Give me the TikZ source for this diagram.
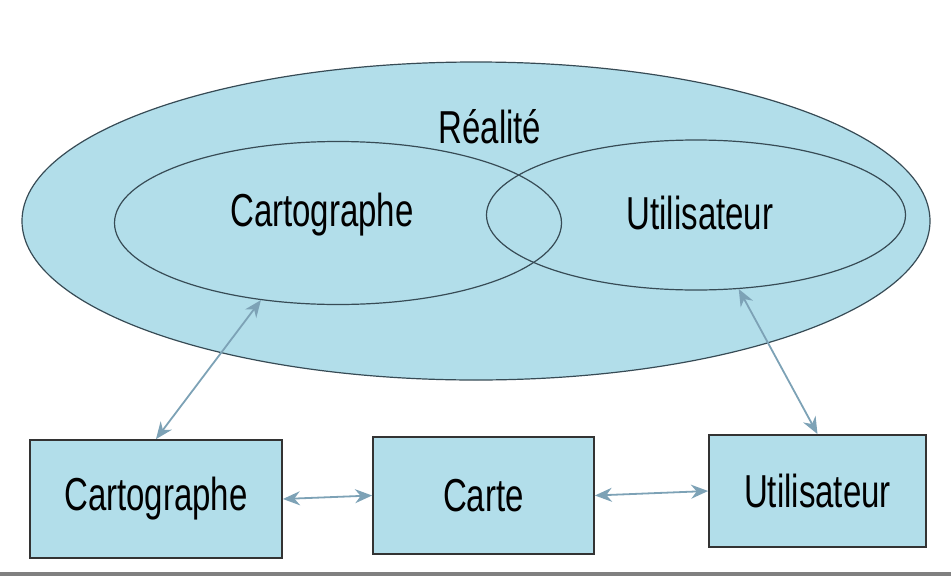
\documentclass[tikz,border=0pt]{standalone}
\usepackage{fontspec}
\usepackage{graphicx}
\setmainfont{Liberation Sans}
\usetikzlibrary{shapes.geometric,arrows.meta}

\definecolor{fondbleu}{RGB}{178,222,234}
\definecolor{traitbleu}{RGB}{125,162,182}
\definecolor{bord}{RGB}{55,75,85}

\newcommand{\haut}[1]{\scalebox{1}[1.4]{#1}}

\tikzset{
  ens/.style={ellipse,draw=bord,line width=1.2pt,inner sep=0pt},
  boite/.style={rectangle,draw=black!80,line width=1.8pt,fill=fondbleu,inner sep=0pt},
  texte/.style={font=\fontsize{33}{40}\selectfont},
  lien/.style={draw=traitbleu,line width=1.8pt,>={Stealth[length=17pt,width=14pt]},<->}
}

\begin{document}
\begin{tikzpicture}[x=1pt,y=-1pt]
\useasboundingbox (0,0) rectangle (951,576);

% Ensembles
\node[ens,fill=fondbleu,minimum width=908pt,minimum height=318pt] (realite) at (476,221) {};
\node[ens,minimum width=447pt,minimum height=163pt] (cartoEll) at (338,223) {};
\node[ens,minimum width=419pt,minimum height=150pt] (userEll) at (696,215) {};

\node[texte] (realiteTxt) at (490,127) {\haut{Réalité}};
\node[texte] (cartoTxt) at (322,215) {\haut{Cartographe}};
\node[texte] (userTxt) at (700,213) {\haut{Utilisateur}};

% Boites
\node[boite,texte,minimum width=252pt,minimum height=118pt] (cartoBox) at (156,499) {\haut{Cartographe}};
\node[boite,texte,minimum width=221pt,minimum height=117pt] (carteBox) at (483.5,495.5) {\haut{Carte}};
\node[boite,texte,minimum width=217pt,minimum height=112pt] (userBox) at (817.5,491) {\haut{Utilisateur}};

% Liens
\draw[lien] (cartoBox.north) -- (cartoEll.225);
\draw[lien] (userEll.-60) -- (userBox.north);
\draw[lien] (cartoBox.east) -- (carteBox.west);
\draw[lien] (carteBox.east) -- (userBox.west);

% Bas
\fill[gray] (0,572) rectangle (951,576);

\end{tikzpicture}
\end{document}
